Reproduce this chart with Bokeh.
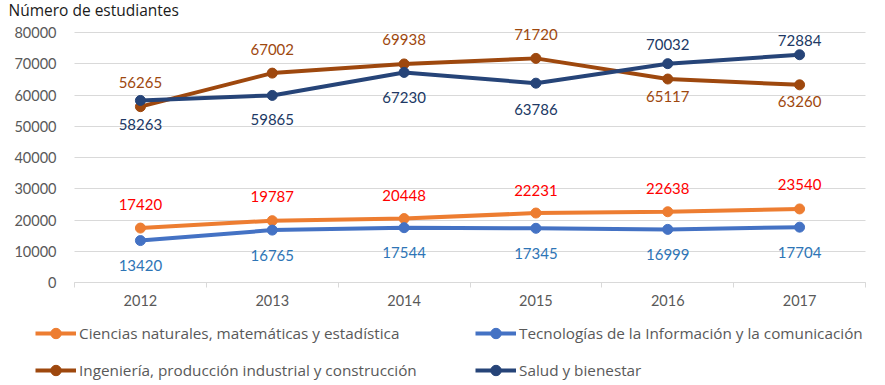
from bokeh.plotting import figure
from bokeh.models import ColumnDataSource, FixedTicker, Legend, LegendItem, Range1d, Label
from bokeh.core.properties import value
from bokeh.embed import file_html
from bokeh.resources import INLINE

# ---- data ----
years = ["2012", "2013", "2014", "2015", "2016", "2017"]
ciencias = [17420, 19787, 20448, 22231, 22638, 23540]
tecnologias = [13420, 16765, 17544, 17345, 16999, 17704]
ingenieria = [56265, 67002, 69938, 71720, 65117, 63260]
salud = [58263, 59865, 67230, 63786, 70032, 72884]
series_names = [
    "Ciencias naturales, matemáticas y estadística",
    "Tecnologías de la Información y la comunicación",
    "Ingeniería, producción industrial y construcción",
    "Salud y bienestar",
]
y_ticks = [0, 10000, 20000, 30000, 40000, 50000, 60000, 70000, 80000]
title_text = "Número de estudiantes"

# ---- layout (pixels) ----
W, H = 885, 385
PLOT_L, PLOT_R = 74, 865      # plot area left/right
PLOT_T, PLOT_B = 32, 282      # pixel rows of y max / y = 0
Y_MAX = 80000

FONT = "Lato"
TEXT_FONT = "Open Sans"
line_colors = ["#ED7D31", "#4472C4", "#9E480E", "#264478"]
label_colors = ["#FF0000", "#2E75B6", "#9E480E", "#203864"]
label_dy = [
    [-24, -24, -23, -23, -23, -24],
    [25, 25, 25, 25, 25, 25],
    [-24, -24, -24, -24, 17, 17],
    [24, 24, 25, 26, -19, -14],
]

n = len(years)
px_per_cat = (PLOT_R - PLOT_L) / n
units_per_px = Y_MAX / (PLOT_B - PLOT_T)
x_start = -PLOT_L / px_per_cat
x_end = (W - PLOT_L) / px_per_cat
y_start = -(H - PLOT_B) * units_per_px
y_end = PLOT_B * units_per_px

xs = [i + 0.5 for i in range(n)]

p = figure(width=W, height=H, output_backend="svg", toolbar_location=None,
           x_range=Range1d(x_start, x_end), y_range=Range1d(y_start, y_end),
           title=None, min_border=0)
p.min_border_left = 0
p.min_border_right = 0
p.min_border_top = 0
p.min_border_bottom = 0
p.outline_line_color = None
p.background_fill_color = "white"
p.border_fill_color = "white"

# x axis
xa = p.xaxis[0]
xa.fixed_location = 0
xa.bounds = (0, n)
xa.ticker = FixedTicker(ticks=xs, minor_ticks=list(range(n + 1)))
xa.major_label_overrides = {x: y for x, y in zip(xs, years)}
xa.major_tick_out = 0
xa.major_tick_in = 0
xa.minor_tick_out = 5
xa.minor_tick_in = 0
xa.minor_tick_line_color = "#D9D9D9"
xa.axis_line_color = "#D9D9D9"
xa.major_label_standoff = 7
xa.major_label_text_font = FONT
xa.major_label_text_font_size = "14.5px"
xa.major_label_text_color = "#595959"

# y axis
ya = p.yaxis[0]
ya.fixed_location = 0
ya.bounds = (0, Y_MAX)
ya.ticker = FixedTicker(ticks=y_ticks)
ya.axis_line_color = None
ya.major_tick_line_color = None
ya.minor_tick_line_color = None
ya.major_tick_out = 0
ya.major_tick_in = 0
ya.major_label_standoff = 18
ya.major_label_text_font = FONT
ya.major_label_text_font_size = "14.5px"
ya.major_label_text_color = "#595959"

p.xgrid.visible = False
yg = p.ygrid[0]
yg.ticker = FixedTicker(ticks=y_ticks)
yg.grid_line_color = "#D9D9D9"
yg.grid_line_width = 1
yg.cross_bounds = (0, n)

all_series = [ciencias, tecnologias, ingenieria, salud]
items = []
for vals, name, lc in zip(all_series, series_names, line_colors):
    src = ColumnDataSource(dict(x=xs, y=vals))
    lr = p.line("x", "y", source=src, line_color=lc, line_width=4)
    sr = p.scatter("x", "y", source=src, size=10, fill_color=lc, line_color=lc)
    items.append(LegendItem(label=name, renderers=[lr, sr]))

for vals, tc, dy in zip(all_series, label_colors, label_dy):
    src = ColumnDataSource(dict(x=xs, y=vals, t=[str(v) for v in vals], dy=dy))
    p.text("x", "y", text="t", source=src, y_offset="dy", text_align="center",
           text_baseline="middle", text_font=value(FONT), text_font_size="15px",
           text_color=tc)

def make_legend(its, loc):
    lg = Legend(items=its, location=loc, orientation="vertical")
    lg.border_line_color = None
    lg.background_fill_alpha = 0
    lg.padding = 0
    lg.margin = 0
    lg.spacing = 11
    lg.label_height = 26
    lg.glyph_height = 26
    lg.glyph_width = 41
    lg.label_standoff = 3
    lg.label_text_font = TEXT_FONT
    lg.label_text_font_size = "15.3px"
    lg.label_text_color = "#595959"
    return lg

p.add_layout(make_legend([items[0], items[2]], (35, 2)))
p.add_layout(make_legend([items[1], items[3]], (475, 2)))

p.add_layout(Label(x=8, y=H - 9, x_units="screen", y_units="screen", text=title_text,
                   text_font=TEXT_FONT, text_font_size="15.5px", text_color="#1a1a1a",
                   text_baseline="alphabetic", text_align="left"))

open("out.html", "w").write(file_html(p, INLINE))
